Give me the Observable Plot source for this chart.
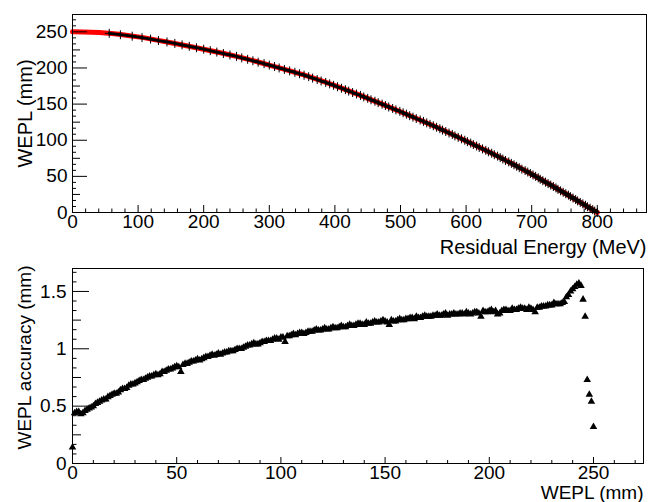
<!DOCTYPE html>
<html><head><meta charset="utf-8">
<script src="https://cdn.jsdelivr.net/npm/d3@7"></script>
<script src="https://cdn.jsdelivr.net/npm/@observablehq/plot@0.6"></script>
<style>
html,body{margin:0;padding:0;background:#fff;}
#chart svg{display:block;}
</style></head><body><div id="chart"></div>
<script>
// ---- Top panel: WEPL vs residual energy ----
const fitEnergy = [0, 50, 100, 150, 200, 250, 300, 350, 400, 450, 500, 550, 600, 650, 700, 750, 800];
const fitWepl   = [250, 248.5, 243, 235, 226, 216, 204, 191, 175.5, 158, 139.5, 120, 99, 77, 53, 27, 0];

const pointWepl = [0,2,4,6,8,10,12,14,16,18,20,22,24,26,28,30,32,34,36,38,40,42,44,46,48,50,52,54,56,58,60,62,64,66,68,70,72,74,76,78,80,82,84,86,88,90,92,94,96,98,100,102,104,106,108,110,112,114,116,118,120,122,124,126,128,130,132,134,136,138,140,142,144,146,148,150,152,154,156,158,160,162,164,166,168,170,172,174,176,178,180,182,184,186,188,190,192,194,196,198,200,202,204,206,208,210,212,214,216,218,220,222,224,226,228,230,232,234,236,238,240,242,244,246,248];
const pointEnergy = [800,796,793,789,785,782,778,774,770,767,763,759,756,752,748,744,740,737,733,729,725,721,717,713,710,706,702,698,694,690,685,681,677,673,669,665,660,656,652,648,643,639,634,630,625,620,616,611,607,602,598,593,588,583,579,574,569,564,560,555,550,545,540,535,530,524,519,514,509,504,499,493,488,482,477,472,466,461,455,450,444,439,433,427,421,416,410,404,398,392,386,379,373,366,360,353,346,339,331,323,315,308,300,292,283,275,267,258,250,240,230,220,210,200,189,178,167,156,144,131,119,106,91,73,56];

// ---- Bottom panel: WEPL accuracy vs WEPL (even mm) ----
const accWepl = [0,2,4,6,8,10,12,14,16,18,20,22,24,26,28,30,32,34,36,38,40,42,44,46,48,50,52,54,56,58,60,62,64,66,68,70,72,74,76,78,80,82,84,86,88,90,92,94,96,98,100,102,104,106,108,110,112,114,116,118,120,122,124,126,128,130,132,134,136,138,140,142,144,146,148,150,152,154,156,158,160,162,164,166,168,170,172,174,176,178,180,182,184,186,188,190,192,194,196,198,200,202,204,206,208,210,212,214,216,218,220,222,224,226,228,230,232,234,236,237,238,239,240,241,242,243,244,245,246,247,248,249,250];
const accuracy = [0.14,0.45,0.43,0.46,0.48,0.50,0.53,0.55,0.56,0.59,0.61,0.62,0.65,0.66,0.69,0.70,0.72,0.73,0.75,0.76,0.78,0.78,0.80,0.82,0.83,0.85,0.80,0.87,0.88,0.89,0.91,0.91,0.93,0.94,0.94,0.96,0.96,0.97,0.98,0.99,1.00,1.01,1.03,1.04,1.04,1.05,1.06,1.07,1.08,1.09,1.10,1.06,1.11,1.13,1.13,1.14,1.14,1.15,1.16,1.16,1.17,1.17,1.18,1.18,1.19,1.19,1.20,1.20,1.21,1.22,1.21,1.22,1.23,1.23,1.24,1.24,1.21,1.24,1.25,1.25,1.26,1.27,1.26,1.27,1.28,1.28,1.28,1.29,1.29,1.30,1.29,1.30,1.30,1.31,1.30,1.31,1.31,1.32,1.28,1.32,1.33,1.32,1.30,1.33,1.34,1.33,1.34,1.35,1.35,1.34,1.35,1.32,1.36,1.37,1.38,1.38,1.39,1.39,1.41,1.45,1.47,1.50,1.52,1.54,1.56,1.57,1.55,1.43,1.28,0.73,0.60,0.54,0.32];
// (odd mm)
const accWeplOdd = [1,3,5,7,9,11,13,15,17,19,21,23,25,27,29,31,33,35,37,39,41,43,45,47,49,51,53,55,57,59,61,63,65,67,69,71,73,75,77,79,81,83,85,87,89,91,93,95,97,99,101,103,105,107,109,111,113,115,117,119,121,123,125,127,129,131,133,135,137,139,141,143,145,147,149,151,153,155,157,159,161,163,165,167,169,171,173,175,177,179,181,183,185,187,189,191,193,195,197,199,201,203,205,207,209,211,213,215,217,219,221,223,225,227,229,231,233,235];
const accuracyOdd = [0.44,0.45,0.44,0.47,0.49,0.52,0.54,0.56,0.58,0.60,0.61,0.64,0.65,0.68,0.69,0.71,0.73,0.74,0.76,0.77,0.77,0.80,0.81,0.82,0.84,0.84,0.86,0.87,0.89,0.90,0.90,0.92,0.93,0.95,0.95,0.95,0.97,0.98,0.98,1.00,1.00,1.02,1.03,1.05,1.04,1.06,1.07,1.07,1.09,1.08,1.10,1.11,1.12,1.12,1.14,1.13,1.15,1.15,1.17,1.16,1.18,1.17,1.19,1.18,1.20,1.19,1.21,1.20,1.22,1.21,1.23,1.22,1.24,1.23,1.25,1.23,1.25,1.24,1.26,1.25,1.26,1.27,1.28,1.27,1.29,1.28,1.29,1.30,1.29,1.31,1.30,1.31,1.30,1.31,1.32,1.30,1.32,1.31,1.33,1.32,1.34,1.33,1.31,1.34,1.33,1.35,1.34,1.36,1.35,1.36,1.34,1.36,1.37,1.37,1.38,1.40,1.39,1.40];

// ---- Axis tick values and labels ----
const topXTicks = [0, 100, 200, 300, 400, 500, 600, 700, 800];
const topYTicks = [0, 50, 100, 150, 200, 250];
const botXTicks = [0, 50, 100, 150, 200, 250];
const botYTicks = [0, 0.5, 1, 1.5];
const botYLabels = ["0", "0.5", "1", "1.5"];

const fitData = fitEnergy.map((e, i) => ({e, w: fitWepl[i]}));
const pointData = pointEnergy.map((e, i) => ({e, w: pointWepl[i]}));
const accData = accuracy.map((a, i) => ({w: accWepl[i], a}))
  .concat(accuracyOdd.map((a, i) => ({w: accWeplOdd[i], a})));

const FONT = "'Liberation Sans', Arial, Helvetica, sans-serif";
const WIDTH = 659;

// ---------- TOP ----------
{
  const H = 258, mT = 14, mB = 46, mL = 72, mR = 13;
  const pw = WIDTH - mL - mR, ph = H - mT - mB;
  const xMinor = d3.range(0, 876, 20).filter(v => v % 100 !== 0);
  const yMed = d3.range(25, 274, 50);
  const ySmall = d3.range(0, 274, 50 / 6).filter(v => Math.abs(v % 25) > 1e-6 && Math.abs(v % 25 - 25) > 1e-6);
  const svg = Plot.plot({
    width: WIDTH, height: H,
    marginTop: mT, marginBottom: mB, marginLeft: mL, marginRight: mR,
    style: {fontFamily: FONT, fontSize: "19px", color: "black", background: "white"},
    x: {domain: [0, 875]},
    y: {domain: [0, 274]},
    marks: [
      Plot.line(fitData, {x: "e", y: "w", stroke: "#ff0000", strokeWidth: 5, curve: "monotone-x"}),
      Plot.line(pointData, {x: "e", y: "w", stroke: "black", strokeWidth: 2.8}),
      Plot.dot(pointData, {x: "e", y: "w", symbol: "plus", r: 3, stroke: "black", strokeWidth: 1}),
      Plot.frame({stroke: "black", strokeWidth: 1}),
      Plot.tickX(topXTicks, {x: d => d, insetTop: ph - 7, stroke: "black"}),
      Plot.tickX(xMinor, {x: d => d, insetTop: ph - 3.5, stroke: "black"}),
      Plot.tickY(topYTicks, {y: d => d, insetRight: pw - 15, stroke: "black"}),
      Plot.tickY(yMed, {y: d => d, insetRight: pw - 8, stroke: "black"}),
      Plot.tickY(ySmall, {y: d => d, insetRight: pw - 4, stroke: "black"}),
      Plot.axisX(topXTicks, {tickSize: 0, tickPadding: 2, label: null, fontSize: 19, tickFormat: d => String(d)}),
      Plot.axisY(topYTicks, {tickSize: 0, tickPadding: 5, label: null, fontSize: 19, tickFormat: d => String(d)}),
      Plot.text(["Residual Energy (MeV)"], {frameAnchor: "bottom-right", textAnchor: "end", lineAnchor: "bottom", dy: 41, fontSize: 20, fill: "black"}),
      Plot.text(["WEPL (mm)"], {frameAnchor: "left", rotate: -90, textAnchor: "middle", lineAnchor: "middle", dx: -47, fontSize: 20, fill: "black"})
    ]
  });
  document.getElementById("chart").appendChild(svg);
}

// ---------- BOTTOM ----------
{
  const H = 244, mT = 10, mB = 39, mL = 72, mR = 16;
  const pw = WIDTH - mL - mR, ph = H - mT - mB;
  const xMinor = d3.range(0, 274, 10).filter(v => v % 50 !== 0);
  const yMed = [0.25, 0.75, 1.25];
  const ySmall = d3.range(0, 1.7, 0.5 / 6).filter(v => {
    const r = (v * 12) % 6; return Math.abs(r) > 1e-6 && Math.abs(r - 3) > 1e-6 && Math.abs(r - 6) > 1e-6;
  });
  const svg = Plot.plot({
    width: WIDTH, height: H,
    marginTop: mT, marginBottom: mB, marginLeft: mL, marginRight: mR,
    style: {fontFamily: FONT, fontSize: "19px", color: "black", background: "white"},
    x: {domain: [0, 274]},
    y: {domain: [0, 1.7]},
    marks: [
      Plot.dot(accData, {x: "w", y: "a", symbol: "triangle", r: 2.8, fill: "black", stroke: "none"}),
      Plot.frame({stroke: "black", strokeWidth: 1}),
      Plot.tickX(botXTicks, {x: d => d, insetTop: ph - 6, stroke: "black"}),
      Plot.tickX(xMinor, {x: d => d, insetTop: ph - 3, stroke: "black"}),
      Plot.tickY(botYTicks, {y: d => d, insetRight: pw - 17, stroke: "black"}),
      Plot.tickY(yMed, {y: d => d, insetRight: pw - 9, stroke: "black"}),
      Plot.tickY(ySmall, {y: d => d, insetRight: pw - 4.5, stroke: "black"}),
      Plot.axisX(botXTicks, {tickSize: 0, tickPadding: 2, label: null, fontSize: 19, tickFormat: d => String(d)}),
      Plot.axisY(botYTicks, {tickSize: 0, tickPadding: 6, label: null, fontSize: 19, tickFormat: (d, i) => botYLabels[i]}),
      Plot.text(["WEPL (mm)"], {frameAnchor: "bottom-right", textAnchor: "end", lineAnchor: "bottom", dy: 35.5, fontSize: 19, fill: "black"}),
      Plot.text(["WEPL accuracy (mm)"], {frameAnchor: "top-left", rotate: -90, textAnchor: "end", lineAnchor: "middle", dx: -48, dy: -3, fontSize: 19, fill: "black"})
    ]
  });
  document.getElementById("chart").appendChild(svg);
}
</script>
</body></html>
